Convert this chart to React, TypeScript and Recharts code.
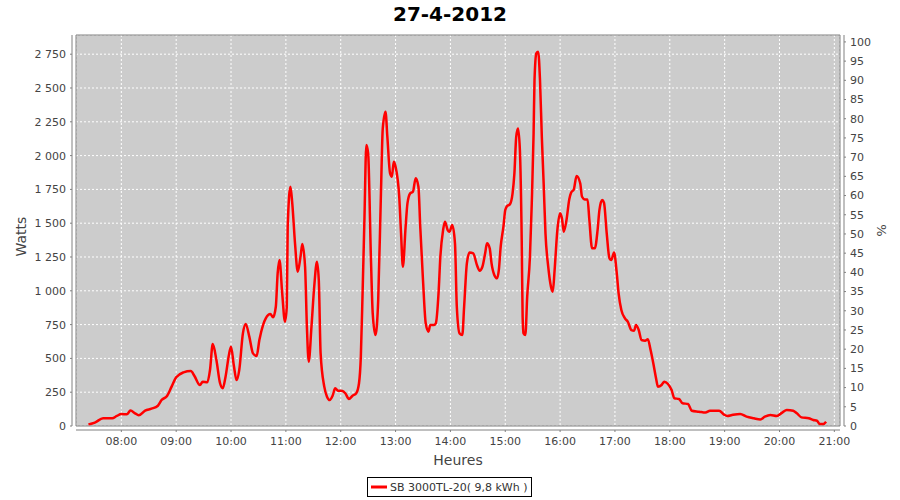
import { LineChart, Line, XAxis, YAxis, CartesianGrid, ReferenceArea, Label } from 'recharts';

// minutes since midnight
const minuteOfDay = [
  444, 451, 460, 470, 475, 480, 486, 490, 495, 499, 506, 513, 520, 524, 530, 535, 540, 548, 556, 560,
  566, 569, 574, 577, 580, 584, 588, 591, 594, 598, 600, 603, 606, 609, 613, 616, 620, 624, 628, 631,
  635, 638, 643, 646, 649, 651, 653, 656, 659, 661, 662, 665, 667, 670, 673, 676, 678, 681, 683, 685,
  688, 691, 694, 696, 698, 702, 705, 708, 711, 714, 717, 722, 725, 729, 733, 737, 740, 742, 744, 746,
  748, 750, 753, 755, 758, 761, 764, 766, 769, 771, 774, 776, 778, 780, 784, 786, 788, 791, 793, 796,
  799, 802, 805, 807, 810, 813, 816, 818, 822, 824, 827, 829, 832, 834, 837, 839, 842, 845, 847, 850,
  853, 855, 858, 861, 865, 869, 872, 875, 878, 880, 883, 885, 888, 891, 893, 895, 898, 900, 902, 905,
  908, 910, 912, 914, 916, 918, 919, 920, 922, 924, 927, 929, 931, 932, 934, 936, 938, 940, 942, 944,
  947, 950, 952, 954, 957, 960, 962, 964, 967, 970, 972, 975, 978, 982, 984, 987, 990, 992, 995, 998,
  1001, 1003, 1006, 1008, 1011, 1014, 1016, 1019, 1022, 1024, 1027, 1031, 1034, 1038, 1041, 1043, 1046, 1049, 1053, 1056,
  1059, 1062, 1065, 1067, 1071, 1074, 1078, 1082, 1085, 1090, 1094, 1100, 1104, 1112, 1119, 1124, 1134, 1139, 1143, 1148,
  1157, 1164, 1172, 1179, 1184, 1190, 1197, 1203, 1208, 1215, 1219, 1224, 1232, 1237, 1241, 1244, 1248, 1251,
];

const watts = [
  12, 25, 57, 57, 74, 89, 86, 114, 94, 79, 114, 128, 150, 192, 222, 291, 360, 397, 407, 370,
  303, 328, 323, 414, 606, 488, 316, 279, 365, 537, 587, 451, 340, 414, 685, 755, 661, 537, 518, 636,
  747, 796, 828, 804, 882, 1129, 1228, 981, 771, 882, 1474, 1770, 1647, 1351, 1141, 1252, 1346, 1178, 735, 476,
  735, 1030, 1215, 1080, 537, 291, 217, 192, 222, 279, 261, 259, 242, 200, 224, 242, 316, 513, 1006, 1548,
  2078, 2016, 1252, 833, 673, 932, 1721, 2201, 2324, 2140, 1868, 1844, 1955, 1918, 1696, 1425, 1178, 1474, 1647, 1721,
  1733, 1832, 1770, 1474, 1080, 759, 698, 747, 747, 759, 981, 1252, 1449, 1511, 1449, 1437, 1486, 1351, 882, 685,
  673, 882, 1203, 1284, 1277, 1191, 1149, 1178, 1277, 1351, 1314, 1203, 1117, 1092, 1154, 1326, 1474, 1597, 1627, 1639,
  1721, 1868, 2140, 2201, 2041, 1376, 809, 685, 673, 956, 1252, 1647, 2164, 2559, 2756, 2768, 2559, 2140, 1795, 1425,
  1178, 1030, 993, 1154, 1449, 1573, 1536, 1437, 1524, 1676, 1726, 1750, 1849, 1795, 1696, 1676, 1676, 1524, 1314, 1314,
  1449, 1597, 1671, 1652, 1425, 1240, 1228, 1284, 1129, 981, 858, 796, 772, 710, 705, 747, 710, 636, 631, 641,
  562, 463, 352, 291, 303, 328, 311, 266, 205, 200, 168, 163, 113, 106, 99, 113, 113, 86, 74, 81,
  89, 69, 57, 49, 69, 81, 74, 99, 118, 113, 94, 64, 57, 44, 39, 15, 15, 32,
];

const hourTicks = [480, 540, 600, 660, 720, 780, 840, 900, 960, 1020, 1080, 1140, 1200, 1260];
const wattTicks = [0, 250, 500, 750, 1000, 1250, 1500, 1750, 2000, 2250, 2500, 2750];
const percentTicks = [0, 5, 10, 15, 20, 25, 30, 35, 40, 45, 50, 55, 60, 65, 70, 75, 80, 85, 90, 95, 100];

const xDomain = [430.4, 1266.2];
const wattDomain = [0, 2892];
const percentDomain = [0, 101.8];

const data = minuteOfDay.map((t, i) => ({ t, w: watts[i] }));

const font = 'DejaVu Sans, sans-serif';
const axisGray = '#808080';
const tickText = { fontSize: 11, fill: '#444', fontFamily: font };

const fmtHour = (m: number) => {
  const h = Math.floor(m / 60);
  const mm = m % 60;
  return `${String(h).padStart(2, '0')}:${String(mm).padStart(2, '0')}`;
};
const fmtWatts = (v: number) => String(v).replace(/\B(?=(\d{3})+(?!\d))/g, ' ');

export default function App() {
  return (
    <div style={{ position: 'absolute', left: 0, top: 0, width: 900, height: 500, background: '#fff' }}>
      <div
        style={{
          position: 'absolute', left: 0, top: 3, width: 900, textAlign: 'center',
          fontFamily: font, fontWeight: 'bold', fontSize: 20, lineHeight: '22px', color: '#000',
        }}
      >
        27-4-2012
      </div>
      <LineChart width={900} height={500} data={data} margin={{ top: 35, right: 0, bottom: 0, left: 0 }}>
        <CartesianGrid yAxisId="left" fill="#cccccc" stroke="#ffffff" strokeDasharray="2 2" />
        <XAxis
          dataKey="t" type="number" domain={xDomain} ticks={hourTicks} tickFormatter={fmtHour}
          allowDataOverflow height={74} tick={tickText} tickSize={2} tickMargin={9}
          axisLine={{ stroke: axisGray, transform: 'translate(0 4)' }}
          tickLine={{ stroke: axisGray, transform: 'translate(0 4)' }}
        >
          <Label
            content={({ viewBox }: any) => (
              <text x={viewBox.x + viewBox.width / 2} y={viewBox.y + 39} textAnchor="middle"
                fontSize={14} fill="#444" fontFamily={font}>Heures</text>
            )}
          />
        </XAxis>
        <YAxis
          yAxisId="left" type="number" domain={wattDomain} ticks={wattTicks} tickFormatter={fmtWatts}
          allowDataOverflow width={76} tick={tickText} tickSize={2} tickMargin={8}
          axisLine={{ stroke: axisGray, transform: 'translate(-4 0)' }}
          tickLine={{ stroke: axisGray, transform: 'translate(-4 0)' }}
        >
          <Label
            content={({ viewBox }: any) => {
              const cx = 21;
              const cy = viewBox.y + viewBox.height / 2 + 6;
              return (
                <text x={cx} y={cy} textAnchor="middle" dominantBaseline="central"
                  transform={`rotate(-90 ${cx} ${cy})`} fontSize={14} fill="#444" fontFamily={font}>Watts</text>
              );
            }}
          />
        </YAxis>
        <YAxis
          yAxisId="right" orientation="right" type="number" domain={percentDomain} ticks={percentTicks}
          allowDataOverflow width={60} tick={tickText} tickSize={2} tickMargin={8}
          axisLine={{ stroke: axisGray, transform: 'translate(4 0)' }}
          tickLine={{ stroke: axisGray, transform: 'translate(4 0)' }}
        >
          <Label
            content={({ viewBox }: any) => {
              const cx = viewBox.x + 41;
              const cy = viewBox.y + viewBox.height / 2;
              return (
                <text x={cx} y={cy} textAnchor="middle" dominantBaseline="central"
                  transform={`rotate(90 ${cx} ${cy})`} fontSize={13} fill="#444" fontFamily={font}>%</text>
              );
            }}
          />
        </YAxis>
        <ReferenceArea
          yAxisId="left" x1={xDomain[0]} x2={xDomain[1]} y1={wattDomain[0]} y2={wattDomain[1]}
          fill="none" stroke={axisGray} strokeWidth={1}
        />
        <Line
          yAxisId="left" type="monotone" dataKey="w" stroke="#ff0000" strokeWidth={2.5}
          dot={false} isAnimationActive={false}
        />
      </LineChart>
      <div
        style={{
          position: 'absolute', left: 367, top: 477, width: 165, height: 20, border: '1px solid #000',
          boxSizing: 'border-box', display: 'flex', alignItems: 'center', fontFamily: font, fontSize: 11,
          color: '#333', whiteSpace: 'pre',
        }}
      >
        <svg width={18} height={10} style={{ marginLeft: 2, marginRight: 2 }}>
          <line x1={1} y1={5} x2={17} y2={5} stroke="#ff0000" strokeWidth={3} />
        </svg>
        SB 3000TL-20( 9,8 kWh )
      </div>
    </div>
  );
}
